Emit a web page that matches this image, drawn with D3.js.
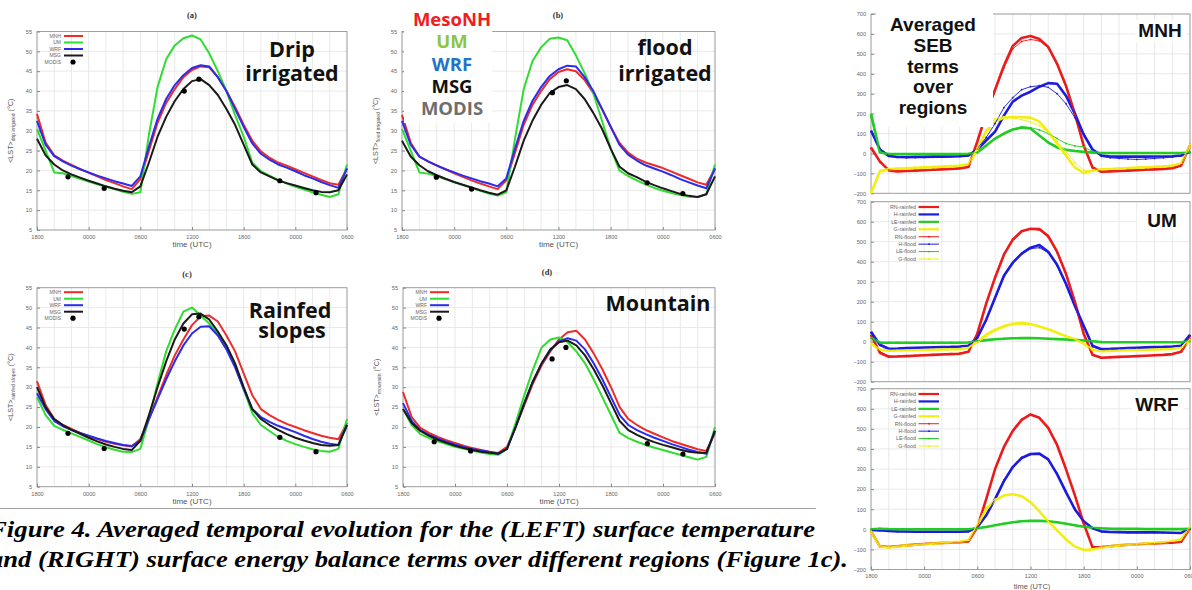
<!DOCTYPE html>
<html><head><meta charset="utf-8">
<script src="https://cdn.jsdelivr.net/npm/d3@7"></script>
<style>body{margin:0;background:#fff}svg{display:block}
.cap{font-family:'Liberation Serif','Tinos','Times New Roman','DejaVu Serif Condensed','DejaVu Serif',serif;font-weight:700;font-style:italic;font-stretch:condensed}
</style>
</head><body>
<svg id="c" width="1192" height="590"></svg>
<script>
// ---------- shared categories ----------
const hours=[0,1,2,3,4,5,6,7,8,9,10,11,12,13,14,15,16,17,18,19,20,21,22,23,24,25,26,27,28,29,30,31,32,33,34,35,36];
const timeTicks=[0,6,12,18,24,30,36];
const timeTickLabels=["1800","0000","0600","1200","1800","0000","0600"];
const lstTicks=[5,10,15,20,25,30,35,40,45,50,55];
const sebTicks=[-200,-100,0,100,200,300,400,500,600,700];
const lstNames=["MNH","UM","WRF","MSG"];
const sebNames=["RN-rainfed","H-rainfed","LE-rainfed","G-rainfed","RN-flood","H-flood","LE-flood","G-flood"];

// ---------- LST (°C) : drip irrigated ----------
const dripMNH=[34.2,27,23.8,22.5,21.4,20.4,19.4,18.5,17.6,16.8,16,15.3,17.8,25,32,37,40.5,43.5,45.3,46.2,46,43.5,40,36,31.5,27.5,24.8,23.2,22,21.2,20.3,19.4,18.5,17.6,16.8,16.4,20.5];
const dripUM=[30.5,25,19.5,19.3,18.6,17.9,17.2,16.5,15.9,15.3,14.6,14.1,14.5,29,41,48,51.5,53.3,54,53,49.5,45,40,34,28.5,22,19.8,18.7,17.6,16.7,15.9,15.2,14.5,13.9,13.3,14,21.5];
const dripWRF=[32.5,26.5,23.6,22.3,21.2,20.3,19.5,18.7,18,17.3,16.7,16.1,18.5,26,33,38,41.5,44,45.8,46.5,46.2,43.5,40,35.5,31,26.8,24.2,22.7,21.5,20.7,19.8,18.8,18,17.1,16.3,15.6,20.5];
const dripMSG=[28,23.8,21.5,20,19,18.2,17.4,16.7,16,15.4,14.9,14.5,16,22,28.5,33.5,37.5,40.5,42.5,43,41.5,39,35.5,31.5,26.5,21.5,19.5,18.5,17.5,16.8,16.2,15.6,15,14.6,14.5,15,19];
const dripModisT=[3.6,7.8,17.1,18.8,28.2,32.4];
const dripModisV=[18.4,15.5,40,43,17.4,14.4];
// ---------- flood irrigated ----------
const floodMNH=[34,27,23.5,22.3,21.3,20.3,19.3,18.4,17.5,16.7,16,15.3,17.5,24.5,31.5,36.5,40,43,44.8,45.5,45,42.8,39.5,35.5,31,27,24.5,23,22,21.3,20.6,19.7,18.8,17.9,17,16.4,20.5];
const floodUM=[30.5,25,19.5,19.2,18.5,17.8,17,16.3,15.6,14.9,14.2,13.7,14.5,28,40.5,47.5,51,53.2,53.5,52.8,49,44.5,39.5,32.5,25.5,20,18.6,17.5,16.5,15.6,14.9,14.3,13.8,13.4,13.3,14,21.5];
const floodWRF=[32.5,26.5,23.5,22.3,21.2,20.3,19.5,18.7,18,17.3,16.7,16,18,25.5,32.5,37.5,41,43.8,45.5,46.4,46.2,43.5,40,35.5,31,26.5,24,22.5,21.3,20.5,19.7,18.8,17.8,17,16.2,15.5,20.5];
const floodMSG=[27.5,23.5,21.3,19.8,18.8,17.9,17.1,16.4,15.7,15,14.4,13.9,15,21,27.5,32.5,36.5,39.5,41,41.5,40.5,38,34.5,30.5,25.5,21,19.3,18.3,17.2,16.3,15.5,14.8,14.1,13.6,13.3,14,18.5];
const floodModisT=[3.95,8,17.3,18.9,28.2,32.3];
const floodModisV=[18.3,15.3,39.6,42.6,16.9,14.2];
// ---------- rainfed slopes ----------
const rainMNH=[31.5,25.5,22,20.5,19.5,18.5,17.7,17,16.3,15.8,15.4,15.1,17,22,27.5,33,38,42,45.6,47.8,48,46.5,43,39,33.5,28,24.5,23,21.8,20.8,20,19.2,18.5,17.8,17.3,16.9,21];
const rainUM=[27.5,23,20.3,19.3,18.4,17.5,16.6,15.7,14.9,14.3,13.8,13.7,14.5,22,31,39,44.5,49,50,48,46,43.5,40.5,35.5,29.5,23.5,20.5,19,17.5,16.5,15.7,15,14.4,14,13.8,14.5,22];
const rainWRF=[28.5,24.5,21.5,20.2,19.3,18.5,17.8,17.1,16.5,16,15.5,15.2,16.5,22,27,32,36.5,40.5,43.5,45.2,45.3,43,39.5,35,29.5,24.5,22.5,21.3,20.3,19.5,18.7,17.8,17,16.3,15.8,15.5,20.5];
const rainMSG=[30,25,22,20.5,19.3,18.3,17.3,16.4,15.6,15,14.5,14.2,16.5,23,30,36.5,42,46,48.3,48.5,47,44,40.5,36,30,24.5,22,20.5,19.3,18.2,17.3,16.6,16,15.5,15.3,15.5,20.5];
const rainModisT=[3.6,7.8,17.1,18.8,28.2,32.4];
const rainModisV=[18.4,14.6,44.6,47.7,17.4,13.8];
// ---------- mountain ----------
const mtnMNH=[28.8,22.5,19.8,18.5,17.5,16.7,16,15.3,14.7,14.2,13.8,13.5,15,20,25.5,31,35.5,39,42,43.8,44.2,42,38.5,34.5,30,25,22,20.5,19.3,18.3,17.4,16.5,15.8,15.1,14.4,14,18.5];
const mtnUM=[24.5,20.5,18.2,17.2,16.4,15.7,15,14.5,14,13.6,13.2,13,14.5,21,28,34.5,40,42,42.5,41.3,39,36,32,27.5,23,18.5,17.2,16.3,15.5,14.8,14.2,13.6,13,12.4,11.8,12.5,20];
const mtnWRF=[26,21.5,19.2,18,17.1,16.3,15.6,15,14.5,14.1,13.7,13.3,14.5,20,26,31.5,36,39.3,41.5,42.3,41.7,39.5,36,32,27.5,23,20.5,19.2,18.2,17.3,16.5,15.7,15,14.3,13.7,13.3,19];
const mtnMSG=[24.5,21,19,17.8,16.8,16,15.3,14.7,14.2,13.8,13.5,13.3,14.5,20,26,31.5,36,39.5,41.3,41.7,40.5,38,34.5,30.5,26,21.5,19.2,18,17,16.2,15.5,14.9,14.3,13.8,13.5,13.5,19];
const mtnModisT=[3.6,7.8,17.2,18.8,28.2,32.3];
const mtnModisV=[16.3,14,37.1,40,15.8,13.2];

// ---------- SEB (W/m2) : MNH ----------
const mnhRNr=[30,-40,-85,-90,-88,-86,-84,-82,-80,-78,-75,-68,60,200,320,440,540,580,590,575,535,450,340,200,40,-70,-92,-90,-88,-86,-84,-82,-80,-78,-74,-60,40];
const mnhHr=[115,20,-12,-18,-18,-17,-17,-16,-16,-15,-14,-10,20,65,110,190,260,290,310,335,353,350,290,200,95,20,-10,-15,-16,-16,-16,-16,-15,-15,-14,-10,10];
const mnhLEr=[200,5,-3,-3,-3,-3,-3,-3,-3,-3,-3,-2,5,40,75,100,120,130,125,90,55,30,18,12,8,4,2,2,2,2,2,2,2,2,2,2,5];
const mnhGr=[-200,-90,-80,-78,-76,-74,-72,-70,-68,-66,-63,-55,20,110,160,180,183,182,180,160,110,50,-10,-70,-98,-85,-80,-78,-76,-74,-72,-70,-68,-66,-62,-50,40];
const mnhRNf=[25,-45,-82,-88,-86,-84,-82,-80,-78,-76,-73,-66,55,190,315,430,525,562,572,565,530,448,335,195,35,-72,-90,-88,-86,-84,-82,-80,-78,-76,-72,-58,45];
const mnhHf=[110,25,-10,-20,-22,-21,-20,-19,-18,-17,-15,-10,25,80,150,230,280,320,335,340,332,300,250,180,100,20,-15,-22,-25,-28,-30,-28,-25,-22,-18,-12,5];
const mnhLEf=[180,8,-2,-2,-2,-2,-2,-2,-2,-2,-2,-1,6,38,72,98,120,135,130,118,100,75,50,38,33,10,3,3,3,3,3,3,3,3,3,3,6];
const mnhGf=[-190,-85,-75,-72,-70,-68,-66,-64,-62,-60,-58,-50,30,120,175,185,178,170,158,140,105,60,10,-45,-85,-88,-80,-76,-73,-70,-68,-66,-64,-62,-58,-48,45];
// ---------- SEB : UM ----------
const umRNr=[35,-55,-75,-74,-72,-70,-68,-66,-64,-62,-60,-50,40,190,320,435,510,552,565,563,528,450,340,200,40,-65,-80,-78,-76,-74,-72,-70,-68,-66,-62,-50,20];
const umHr=[50,-15,-35,-34,-32,-30,-29,-28,-27,-26,-24,-20,20,110,220,330,395,440,470,483,450,385,290,180,80,-20,-37,-36,-34,-32,-30,-28,-27,-26,-24,-20,35];
const umLEr=[20,-5,-5,-5,-5,-5,-5,-5,-5,-5,-5,-4,3,8,12,15,17,18,18,17,15,13,11,9,6,2,-2,-3,-3,-3,-3,-3,-3,-3,-3,-3,3];
const umGr=[-10,-40,-45,-44,-43,-42,-41,-40,-39,-38,-37,-30,0,35,60,78,90,93,88,76,62,45,28,12,-10,-40,-48,-46,-44,-42,-41,-40,-39,-38,-36,-30,10];
const umRNf=[30,-50,-72,-72,-70,-68,-66,-64,-62,-60,-58,-48,45,195,325,440,515,555,562,558,522,445,335,195,35,-68,-82,-80,-78,-76,-73,-71,-69,-67,-63,-52,25];
const umHf=[45,-18,-38,-38,-36,-34,-32,-30,-29,-28,-26,-22,18,105,215,325,392,438,465,470,445,380,285,178,78,-25,-42,-40,-38,-36,-34,-32,-30,-28,-26,-22,30];
const umLEf=[18,-3,-4,-4,-4,-4,-4,-4,-4,-4,-4,-3,4,9,13,16,18,19,18,17,16,14,12,10,8,4,0,-1,-1,-1,-1,-1,-1,-1,-1,-1,4];
const umGf=[-8,-38,-43,-42,-41,-40,-39,-38,-37,-36,-35,-28,-5,25,52,72,86,90,87,77,63,46,30,14,-8,-38,-46,-44,-42,-40,-39,-38,-37,-36,-34,-28,12];
// ---------- SEB : WRF ----------
const wrfRNr=[-10,-85,-88,-84,-80,-76,-73,-70,-68,-66,-64,-60,10,150,300,410,490,545,572,555,505,420,300,170,30,-90,-88,-84,-80,-77,-74,-72,-70,-68,-66,-62,5];
const wrfHr=[-3,-5,-8,-10,-11,-12,-12,-12,-12,-12,-12,-10,10,70,150,240,310,355,375,377,348,275,185,100,40,5,-10,-13,-14,-15,-15,-15,-15,-16,-17,-18,5];
const wrfLEr=[0,3,1,0,0,0,0,0,0,0,0,0,5,12,20,28,35,40,42,42,40,35,28,20,13,8,5,3,2,2,2,1,1,1,1,1,3];
const wrfGr=[-10,-85,-90,-85,-80,-77,-74,-71,-68,-65,-62,-55,20,100,145,168,175,165,135,90,40,-5,-50,-85,-103,-100,-90,-85,-80,-77,-74,-71,-68,-65,-60,-50,10];
const wrfRNf=[-8,-82,-86,-83,-79,-75,-72,-70,-68,-66,-63,-59,12,150,298,408,488,548,570,556,506,421,302,172,32,-88,-87,-83,-79,-76,-74,-72,-70,-68,-65,-61,8];
const wrfHf=[-4,-6,-9,-11,-12,-13,-13,-13,-13,-13,-13,-11,8,68,152,245,312,358,372,374,345,278,190,105,42,6,-12,-14,-15,-16,-16,-16,-16,-17,-18,-19,3];
const wrfLEf=[2,5,2,1,1,1,1,1,1,1,1,1,6,13,21,29,36,41,43,42,40,35,29,21,14,9,6,4,3,3,3,2,2,2,2,2,4];
const wrfGf=[-8,-82,-88,-84,-79,-76,-73,-70,-67,-64,-61,-54,25,110,150,170,176,163,133,88,38,-8,-52,-87,-102,-98,-89,-84,-79,-76,-73,-70,-67,-64,-59,-49,12];

// ---------- styles ----------
const lstColors=["#ee2b2b","#2fdc2f","#2b2bee","#1a1a1a"];
const sebColors=["#ec1c1c","#1c1ce0","#22cc22","#f2ee14"];
const svg=d3.select("#c");
svg.append("rect").attr("width",1192).attr("height",590).attr("fill","#fff");
const gridCol="#e3e3e3", tickFont="'Liberation Sans', Arial, sans-serif";

function frame(g,x,y,yTicks){
  const [x0,x1]=x.range(), [yB,yT]=y.range();
  const vg=d3.range(0,37,2);
  g.selectAll(null).data(vg).join("line").attr("x1",d=>x(d)).attr("x2",d=>x(d)).attr("y1",yT).attr("y2",yB).attr("stroke",gridCol).attr("stroke-width",0.8);
  g.selectAll(null).data(yTicks).join("line").attr("x1",x0).attr("x2",x1).attr("y1",d=>y(d)).attr("y2",d=>y(d)).attr("stroke",gridCol).attr("stroke-width",0.8);
  g.append("rect").attr("x",x0).attr("y",yT).attr("width",x1-x0).attr("height",yB-yT).attr("fill","none").attr("stroke","#9a9a9a").attr("stroke-width",0.9);
  const ya=g.append("g").attr("transform",`translate(${x0},0)`).call(d3.axisLeft(y).tickValues(yTicks).tickSize(-3).tickPadding(5));
  ya.select(".domain").remove();
  ya.selectAll("line").attr("stroke","#888");
  ya.selectAll("text").attr("font-size",5.6).attr("fill","#666").style("font-family",tickFont);
}
function xAxis(g,x,yB){
  const xa=g.append("g").attr("transform",`translate(0,${yB})`).call(d3.axisBottom(x).tickValues(timeTicks).tickFormat((d,i)=>timeTickLabels[i]).tickSize(-3).tickPadding(5));
  xa.select(".domain").remove();
  xa.selectAll("line").attr("stroke","#888");
  xa.selectAll("text").attr("font-size",5.6).attr("fill","#666").style("font-family",tickFont);
}

function lstPanel(o){
  const x=d3.scaleLinear().domain([0,36]).range([o.x0,o.x1]);
  const y=d3.scaleLinear().domain([5,55]).range([o.yB,o.yT]);
  const g=svg.append("g");
  frame(g,x,y,lstTicks);
  xAxis(g,x,o.yB);
  g.append("text").attr("x",(o.x0+o.x1)/2).attr("y",o.yB+17).attr("text-anchor","middle").attr("font-size",8).attr("fill","#555").style("font-family",tickFont).text("time (UTC)");
  const yl=g.append("text").attr("transform",`translate(${o.x0-24},${(o.yT+o.yB)/2}) rotate(-90)`).attr("text-anchor","middle").attr("font-size",7.2).attr("fill","#555").style("font-family",tickFont);
  yl.append("tspan").text("<LST>");
  yl.append("tspan").attr("font-size",5).attr("dy",2).text(o.sub);
  yl.append("tspan").attr("dy",-2).text(" (°C)");
  g.append("text").attr("x",o.tx).attr("y",o.ty).attr("text-anchor","middle").attr("font-size",8.5).attr("font-weight","bold").attr("fill","#333").style("font-family","'Liberation Serif', serif").text(o.title);
  const line=d3.line().x((d,i)=>x(hours[i])).y(d=>y(d));
  o.series.forEach((s,k)=>{
    g.append("path").attr("d",line(s)).attr("fill","none").attr("stroke",lstColors[k]).attr("stroke-width",2).attr("stroke-linejoin","round");
  });
  g.selectAll(null).data(o.mt).join("circle").attr("cx",d=>x(d)).attr("cy",(d,i)=>y(o.mv[i])).attr("r",2.6).attr("fill","#000");
  if(o.legend){
    const ly=o.yT+4.5, lx=o.x0+24;
    lstNames.concat(["MODIS"]).forEach((n,i)=>{
      const yy=ly+i*6.5;
      g.append("text").attr("x",lx).attr("y",yy+1.8).attr("text-anchor","end").attr("font-size",5).attr("fill","#666").style("font-family",tickFont).text(n);
      if(i<4) g.append("line").attr("x1",lx+3).attr("x2",lx+22).attr("y1",yy).attr("y2",yy).attr("stroke",lstColors[i]).attr("stroke-width",2);
      else g.append("circle").attr("cx",lx+12).attr("cy",yy).attr("r",2.6).attr("fill","#000");
    });
  }
  return g;
}

function sebPanel(o){
  const x=d3.scaleLinear().domain([0,36]).range([871,1190]);
  const y=d3.scaleLinear().domain([-200,700]).range([o.yB,o.yT]);
  const g=svg.append("g");
  frame(g,x,y,sebTicks);
  if(o.xlab){
    xAxis(g,x,o.yB);
    g.append("text").attr("x",1032).attr("y",o.yB+19.5).attr("text-anchor","middle").attr("font-size",7.5).attr("fill","#555").style("font-family",tickFont).text("time (UTC)");
  }
  const line=d3.line().x((d,i)=>x(hours[i])).y(d=>y(d));
  o.rain.forEach((s,k)=>{
    g.append("path").attr("d",line(s)).attr("fill","none").attr("stroke",sebColors[k]).attr("stroke-width",2.6).attr("stroke-linejoin","round");
  });
  o.flood.forEach((s,k)=>{
    g.append("path").attr("d",line(s)).attr("fill","none").attr("stroke",sebColors[k]).attr("stroke-width",1).attr("opacity",0.9);
    g.selectAll(null).data(s).join("circle").attr("cx",(d,i)=>x(hours[i])).attr("cy",d=>y(d)).attr("r",0.9).attr("fill",sebColors[k]);
  });
  if(o.legend){
    sebNames.forEach((n,i)=>{
      const yy=o.yT+5.3+i*7.43;
      g.append("text").attr("x",916).attr("y",yy+1.9).attr("text-anchor","end").attr("font-size",5.4).attr("fill","#666").style("font-family",tickFont).text(n);
      g.append("line").attr("x1",918.5).attr("x2",939).attr("y1",yy).attr("y2",yy).attr("stroke",sebColors[i%4]).attr("stroke-width",i<4?2.2:1);
      if(i>=4) g.append("circle").attr("cx",929).attr("cy",yy).attr("r",0.9).attr("fill",sebColors[i%4]);
    });
  }
  g.append("rect").attr("x",o.lab[1]-25).attr("y",o.lab[2]-17).attr("width",52).attr("height",22).attr("fill","#fff");
  g.append("text").attr("x",o.lab[1]).attr("y",o.lab[2]).attr("text-anchor","middle").attr("font-size",19).attr("font-weight","bold").attr("fill","#111").style("font-family","'Liberation Sans', Arial, sans-serif").text(o.lab[0]);
  return g;
}

// ---------- left column ----------
lstPanel({x0:37,x1:347,yT:31.5,yB:230,title:"(a)",tx:192,ty:18,sub:"drip irrigated",series:[dripMNH,dripUM,dripWRF,dripMSG],mt:dripModisT,mv:dripModisV,legend:true});
lstPanel({x0:402,x1:715,yT:31.5,yB:230,title:"(b)",tx:558,ty:18,sub:"flood irrigated",series:[floodMNH,floodUM,floodWRF,floodMSG],mt:floodModisT,mv:floodModisV,legend:false});
lstPanel({x0:37,x1:347,yT:287.7,yB:486.7,title:"(c)",tx:187,ty:277,sub:"rainfed slopes",series:[rainMNH,rainUM,rainWRF,rainMSG],mt:rainModisT,mv:rainModisV,legend:true});
lstPanel({x0:403,x1:715,yT:287.7,yB:486.7,title:"(d)",tx:547,ty:275,sub:"mountain",series:[mtnMNH,mtnUM,mtnWRF,mtnMSG],mt:mtnModisT,mv:mtnModisV,legend:true});

const big="'Open Sans', sans-serif";
function bigText(txt,x,y,col,size,fam){
  svg.append("text").attr("x",x).attr("y",y).attr("text-anchor","middle").attr("font-size",size).attr("font-weight","bold").attr("fill",col).style("font-family",fam||big).text(txt);
}
bigText("Drip",292,56.5,"#111",21.5);
bigText("irrigated",292,80.5,"#111",21.5);
bigText("flood",665,55,"#111",21.5);
bigText("irrigated",665,80.5,"#111",21.5);
bigText("Rainfed",290,317.5,"#111",21.5);
bigText("slopes",292,337.5,"#111",21.5);
bigText("Mountain",658,310.5,"#111",21.5);

// overlay legend of panel (b)
svg.append("rect").attr("x",404).attr("y",0).attr("width",88).attr("height",123).attr("fill","#fff");
const ovNames=["MesoNH","UM","WRF","MSG","MODIS"];
const ovColors=["#f41c1c","#8cc63e","#2473c6","#111111","#6e6e6e"];
ovNames.forEach((n,i)=>bigText(n,452,26+i*22.3,ovColors[i],18.5));

// ---------- right column ----------
sebPanel({yT:14,yB:193.3,rain:[mnhRNr,mnhHr,mnhLEr,mnhGr],flood:[mnhRNf,mnhHf,mnhLEf,mnhGf],legend:false,xlab:false,lab:["MNH",1160,37.3]});
sebPanel({yT:201.7,yB:381.7,rain:[umRNr,umHr,umLEr,umGr],flood:[umRNf,umHf,umLEf,umGf],legend:true,xlab:false,lab:["UM",1162,226.7]});
sebPanel({yT:388.7,yB:569.5,rain:[wrfRNr,wrfHr,wrfLEr,wrfGr],flood:[wrfRNf,wrfHf,wrfLEf,wrfGf],legend:true,xlab:true,lab:["WRF",1157,410.7]});
svg.append("rect").attr("x",876).attr("y",0).attr("width",117).attr("height",127).attr("fill","#fff");
["Averaged","SEB","terms","over","regions"].forEach((t,i)=>bigText(t,933,30.7+i*20.9,"#111",19,"'Liberation Sans', Arial, sans-serif"));

// ---------- caption ----------
svg.append("line").attr("x1",0).attr("x2",816).attr("y1",508.5).attr("y2",508.5).attr("stroke","#a0a0a0").attr("stroke-width",1);
const cap=["Figure 4. Averaged temporal evolution for the (LEFT) surface temperature","and (RIGHT) surface energy balance terms over different regions (Figure 1c)."];
svg.append("text").attr("class","cap").attr("x",-11).attr("y",537).attr("font-size",24).attr("fill","#000").attr("textLength",826).attr("lengthAdjust","spacingAndGlyphs").text(cap[0]);
svg.append("text").attr("class","cap").attr("x",-10).attr("y",567).attr("font-size",24).attr("fill","#000").attr("textLength",858).attr("lengthAdjust","spacingAndGlyphs").text(cap[1]);
</script>
</body></html>
